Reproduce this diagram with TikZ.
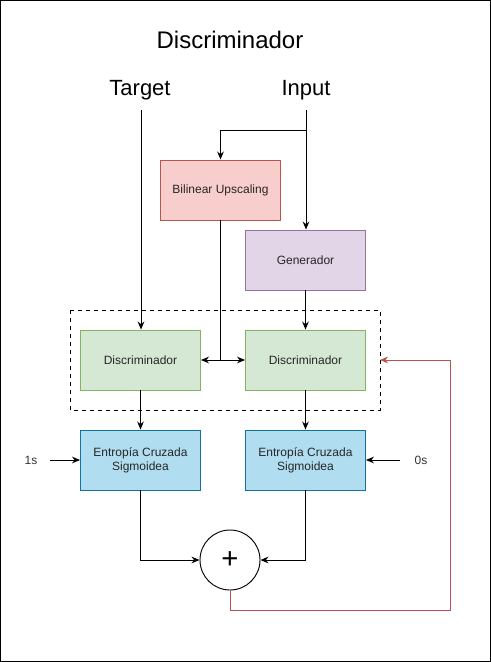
\documentclass[tikz,border=0pt]{standalone}
\usepackage{fontspec}
\setmainfont{Liberation Sans}
\usepackage{tikz}
\usepackage{xcolor}
\usetikzlibrary{arrows.meta}
\definecolor{redfill}{HTML}{F8CECC}
\definecolor{reddraw}{HTML}{B85450}
\definecolor{purplefill}{HTML}{E1D5E7}
\definecolor{purpledraw}{HTML}{9673A6}
\definecolor{greenfill}{HTML}{D5E8D4}
\definecolor{greendraw}{HTML}{82B366}
\definecolor{bluefill}{HTML}{B1DDF0}
\definecolor{bluedraw}{HTML}{10739E}
\tikzset{
    flow-box/.style = {rectangle, line width=0.7pt, minimum width=90pt, minimum height=45pt, inner sep=2pt, font=\fontsize{9}{10.5}\selectfont, align=center, text=black!85},
    flow-arrow/.style = {-{Stealth[length=6pt,width=5pt]}, line width=0.7pt},
    big-label/.style = {font=\fontsize{16.5}{19}\selectfont},
    small-label/.style = {font=\fontsize{9}{11}\selectfont, text=black!80},
}

\begin{document}
\begin{tikzpicture}[x=0.75pt, y=-0.75pt]
\useasboundingbox (0,0) rectangle (491,662);
\draw [line width=0.75pt] (0.5,0.5) rectangle (490.5,661.5);

% titles
\node [big-label, font=\fontsize{18}{21}\selectfont] (title) at (230,40) {Discriminador};
\node [big-label] (target) at (140,90) {Target};
\node [big-label] (input) at (306,90) {Input};

% boxes
\node [flow-box, fill=redfill, draw=reddraw] (upscale) at (220.5,190) {Bilinear Upscaling};
\node [flow-box, fill=purplefill, draw=purpledraw] (gen) at (305.5,260) {Generador};
\draw [dashed, line width=0.7pt] (70,310) rectangle (380,410);
\node [flow-box, fill=greenfill, draw=greendraw] (discA) at (140.5,360) {Discriminador};
\node [flow-box, fill=greenfill, draw=greendraw] (discB) at (305.5,360) {Discriminador};
\node [flow-box, fill=bluefill, draw=bluedraw] (lossA) at (140.5,460) {Entropía Cruzada\\Sigmoidea};
\node [flow-box, fill=bluefill, draw=bluedraw] (lossB) at (305.5,460) {Entropía Cruzada\\Sigmoidea};
\node [circle, draw, line width=0.7pt, minimum size=45pt, inner sep=0pt, font=\fontsize{22}{22}\selectfont] (sum) at (230,560) {+};

\node [small-label] (ones) at (31,460) {1s};
\node [small-label] (zeros) at (421,460) {0s};

% coordinates for the connectors
\coordinate (targetTop) at (141,110);
\coordinate (inputTop) at (306,110);
\coordinate (branch) at (306,130);
\coordinate (split) at (220.5,360);
\coordinate (onesEnd) at (50,460);
\coordinate (zerosEnd) at (400,460);
\coordinate (redIn) at (380,360);

% connectors
\draw [flow-arrow] (targetTop) -- (discA.north -| targetTop);
\draw [flow-arrow] (inputTop) -- (gen.north -| inputTop);
\draw [flow-arrow] (branch) -| (upscale.north);
\draw [line width=0.7pt] (upscale.south) -- (split);
\draw [flow-arrow] (split) -- (discA.east);
\draw [flow-arrow] (split) -- (discB.west);
\draw [flow-arrow] (gen.south) -- (discB.north);
\draw [flow-arrow] (discA.south) -- (lossA.north);
\draw [flow-arrow] (discB.south) -- (lossB.north);
\draw [flow-arrow] (onesEnd) -- (lossA.west);
\draw [flow-arrow] (zerosEnd) -- (lossB.east);
\draw [flow-arrow] (lossA.south) |- (sum.west);
\draw [flow-arrow] (lossB.south) |- (sum.east);
\draw [flow-arrow, draw=reddraw] (sum.south) -- ++(0,20) -| (450,360) -- (redIn);
\end{tikzpicture}
\end{document}
